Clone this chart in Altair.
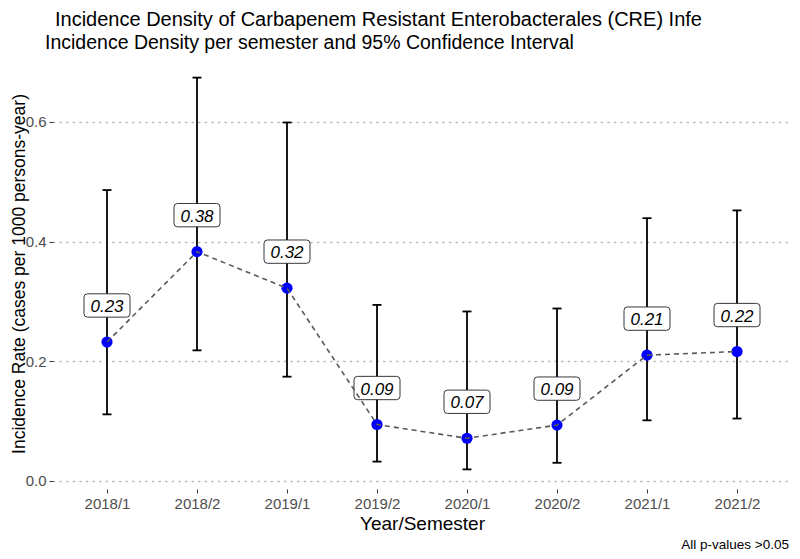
import altair as alt
import pandas as pd

# ---- data ----
semesters = ["2018/1", "2018/2", "2019/1", "2019/2", "2020/1", "2020/2", "2021/1", "2021/2"]
rate = [0.232, 0.383, 0.322, 0.094, 0.071, 0.093, 0.210, 0.216]
lower = [0.111, 0.218, 0.174, 0.032, 0.019, 0.030, 0.101, 0.104]
upper = [0.486, 0.674, 0.599, 0.294, 0.283, 0.288, 0.439, 0.452]
labels = ["0.23", "0.38", "0.32", "0.09", "0.07", "0.09", "0.21", "0.22"]

TITLE = "Incidence Density of Carbapenem Resistant Enterobacterales (CRE) Infe"
SUBTITLE = "Incidence Density per semester and 95% Confidence Interval"
FOOTNOTE = "All p-values >0.05"
XTITLE = "Year/Semester"
YTITLE = "Incidence Rate (cases per 1000 persons-year)"
YTICKS = [0.0, 0.2, 0.4, 0.6]

df = pd.DataFrame({"semester": semesters, "rate": rate, "lower": lower,
                   "upper": upper, "label": labels})

FONT = "Liberation Sans"
W, H = 738, 431

xenc = alt.X("semester:N", sort=semesters,
             scale=alt.Scale(type="point", padding=0.6),
             axis=alt.Axis(title=XTITLE, labelAngle=0, labelFontSize=15,
                           labelColor="#4d4d4d", tickColor="#333333", tickSize=4,
                           labelPadding=3, domain=False, grid=False,
                           titleFontSize=19, titleFontWeight="normal",
                           titleColor="black", titlePadding=3))

yscale = alt.Scale(domain=[-0.0138, 0.7068], nice=False, zero=False)
yaxis = alt.Axis(title=YTITLE, values=YTICKS, format=".1f", labelFontSize=15,
                 labelColor="#4d4d4d", tickColor="#333333", tickSize=4,
                 labelPadding=3, domain=False, grid=True, gridColor="#b8b8b8",
                 gridDash=[1.2, 5.4], gridWidth=1.5, gridCap="round",
                 titleFontSize=17.5, titleFontWeight="normal", titleColor="black",
                 titleX=-29, titleY=H / 2, titleAngle=270, titleAlign="center",
                 titleBaseline="alphabetic")


def yenc(field):
    return alt.Y(f"{field}:Q", scale=yscale, axis=yaxis, title=YTITLE)


base = alt.Chart(df).encode(x=xenc)

rules = base.mark_rule(color="black", strokeWidth=1.8).encode(
    y=yenc("lower"), y2="upper:Q")
cap_lo = base.mark_tick(color="black", thickness=1.8, size=9, opacity=1).encode(y=yenc("lower"))
cap_hi = base.mark_tick(color="black", thickness=1.8, size=9, opacity=1).encode(y=yenc("upper"))
points = base.mark_circle(color="#0000ff", size=125, opacity=1).encode(y=yenc("rate"))

box_path = ("M -0.85 -0.507 L 0.85 -0.507 Q 1 -0.507 1 -0.357 L 1 0.357 "
            "Q 1 0.507 0.85 0.507 L -0.85 0.507 Q -1 0.507 -1 0.357 "
            "L -1 -0.357 Q -1 -0.507 -0.85 -0.507 Z")
boxes = base.mark_point(shape=box_path, filled=True, fill="white", stroke="#222222",
                        strokeWidth=0.9, size=2116, yOffset=-36.5, opacity=1).encode(
    y=yenc("rate"))
texts = base.mark_text(font=FONT, fontSize=17, fontStyle="italic", color="black",
                       baseline="middle", yOffset=-36, dy=1).encode(
    y=yenc("rate"), text="label:N")
line = base.mark_line(color="#595959", strokeDash=[5, 4], strokeWidth=1.6).encode(
    y=yenc("rate"))

ttl = alt.Chart(alt.Data(values=[{"t": TITLE}])).mark_text(
    font=FONT, fontSize=20, color="black", align="left", baseline="alphabetic"
).encode(text="t:N", x=alt.value(2), y=alt.value(-32))

sub = alt.Chart(alt.Data(values=[{"t": SUBTITLE}])).mark_text(
    font=FONT, fontSize=19.5, color="black", align="left", baseline="alphabetic"
).encode(text="t:N", x=alt.value(-8), y=alt.value(-9))

foot = alt.Chart(alt.Data(values=[{"t": FOOTNOTE}])).mark_text(
    font=FONT, fontSize=13.5, color="black", align="right", baseline="alphabetic"
).encode(text="t:N", x=alt.value(736), y=alt.value(491))

chart = alt.layer(rules, cap_lo, cap_hi, points, boxes, texts, line, ttl, sub, foot).properties(
    width=W, height=H,
    autosize=alt.AutoSizeParams(type="none"),
    padding={"left": 45, "top": 50, "right": 1, "bottom": 62},
).configure(font=FONT).configure_view(stroke=None)

chart.save("out.html", embed_options={"renderer": "svg", "actions": False})
